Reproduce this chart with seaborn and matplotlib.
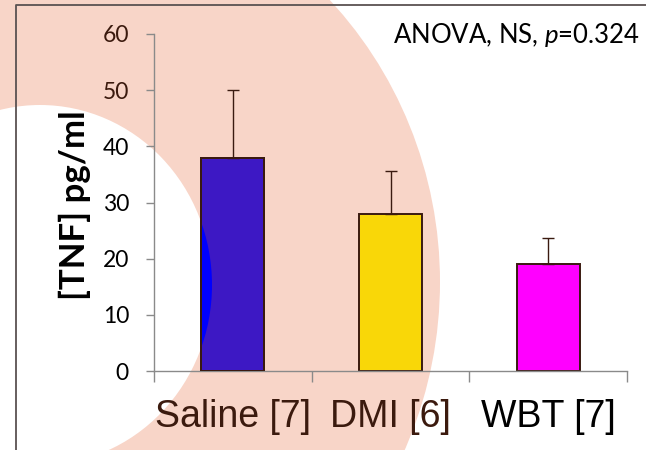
import matplotlib
matplotlib.use("Agg")
import matplotlib.pyplot as plt
import seaborn as sns
import numpy as np
import pandas as pd
from matplotlib.patches import Ellipse, Rectangle

# ---- data ----
categories = ["Saline [7]", "DMI [6]", "WBT [7]"]
means = [38, 28, 19]
sem_upper = [12, 7.6, 4.6]
bar_colors = ["#3d18c4", "#f9d708", "#ff00ff"]
label_colors = ["#3b1a0e", "#3b1a0e", "#000000"]
yticks = [0, 10, 20, 30, 40, 50, 60]
ytick_colors = ["#000000", "#000000", "#000000", "#000000", "#000000", "#3b1a0e", "#3b1a0e"]
annotation = "ANOVA, NS, $p$=0.324"
ylabel = "[TNF] pg/ml"

sns.set_style("white")
plt.rcParams["font.family"] = ["Lato", "DejaVu Sans"]
plt.rcParams["mathtext.fontset"] = "custom"
plt.rcParams["mathtext.rm"] = "Lato"
plt.rcParams["mathtext.it"] = "Lato:italic"

W, H = 646, 450
fig = plt.figure(figsize=(W / 100, H / 100), dpi=100)
fig.patch.set_facecolor("white")

# background decoration (slide arc + frame)
bg = fig.add_axes([0, 0, 1, 1], zorder=0)
bg.set_xlim(0, W)
bg.set_ylim(H, 0)
bg.axis("off")
salmon = "#f8d5c8"
bg.add_patch(Ellipse((40, 282), 800, 818, facecolor=salmon, edgecolor="none"))
inner = Ellipse((40, 285), 344, 360, facecolor="white", edgecolor="none")
bg.add_patch(inner)
bg.plot([16, 16, W], [H, 5, 5], color="#5a5252", lw=1.3, solid_capstyle="butt")

# main axes
x0, x1 = 154, 627
y0, y1 = 371, 34
ax = fig.add_axes([x0 / W, 1 - y0 / H, (x1 - x0) / W, (y0 - y1) / H], zorder=1)
ax.set_facecolor("none")

df = pd.DataFrame({"group": categories, "value": means})
sns.barplot(data=df, x="group", y="value", hue="group", palette=bar_colors,
            saturation=1, legend=False, width=0.4, edgecolor="#3a1a10",
            linewidth=1.4, errorbar=None, ax=ax, zorder=2)

# bright-blue part of first bar inside the white region (slide overlay effect)
p = ax.patches[0]
ov = Rectangle((p.get_x(), p.get_y()), p.get_width(), p.get_height(),
               facecolor="#0000ff", edgecolor="none", zorder=2.5)
ax.add_patch(ov)
ov.set_clip_path(inner)
edge = Rectangle((p.get_x(), p.get_y()), p.get_width(), p.get_height(),
                 facecolor="none", edgecolor="#3a1a10", linewidth=1.4, zorder=2.6)
ax.add_patch(edge)

ax.errorbar(x=np.arange(len(categories)), y=means,
            yerr=[np.zeros(len(means)), sem_upper], fmt="none",
            ecolor="#3a1a10", elinewidth=1.0, capsize=4.5, capthick=1.0, zorder=3)

ax.set_xlim(-0.5, 2.5)
ax.set_ylim(0, 60)
ax.set_yticks(yticks)
ax.set_yticklabels([str(t) for t in yticks])
for lbl, c in zip(ax.get_yticklabels(), ytick_colors):
    lbl.set_color(c)
ax.tick_params(axis="y", direction="out", length=6, width=1, color="#8a8a8a",
               labelsize=16.5, pad=12, left=True)

ax.set_xticks(range(len(categories)))
ax.set_xticklabels(categories, fontfamily="Liberation Sans", fontsize=27)
for lbl, c in zip(ax.get_xticklabels(), label_colors):
    lbl.set_color(c)
ax.set_xticks([-0.5, 0.5, 1.5, 2.5], minor=True)
ax.tick_params(axis="x", which="major", length=0, pad=20)
ax.tick_params(axis="x", which="minor", direction="out", length=8, width=1,
               color="#8a8a8a", bottom=True)

for s in ["top", "right"]:
    ax.spines[s].set_visible(False)
for s in ["left", "bottom"]:
    ax.spines[s].set_color("#8a8a8a")
    ax.spines[s].set_linewidth(1)

ax.set_xlabel("")
ax.set_ylabel(ylabel, fontsize=25, fontweight="bold", va="center", color="black")
ax.yaxis.set_label_coords((75 - x0) / (x1 - x0), (371 - 205) / (371 - 34))

fig.text(640 / W, 1 - 43 / H, annotation, ha="right", va="baseline",
         fontsize=18.5, color="black")

fig.savefig("out.png", dpi=100)
